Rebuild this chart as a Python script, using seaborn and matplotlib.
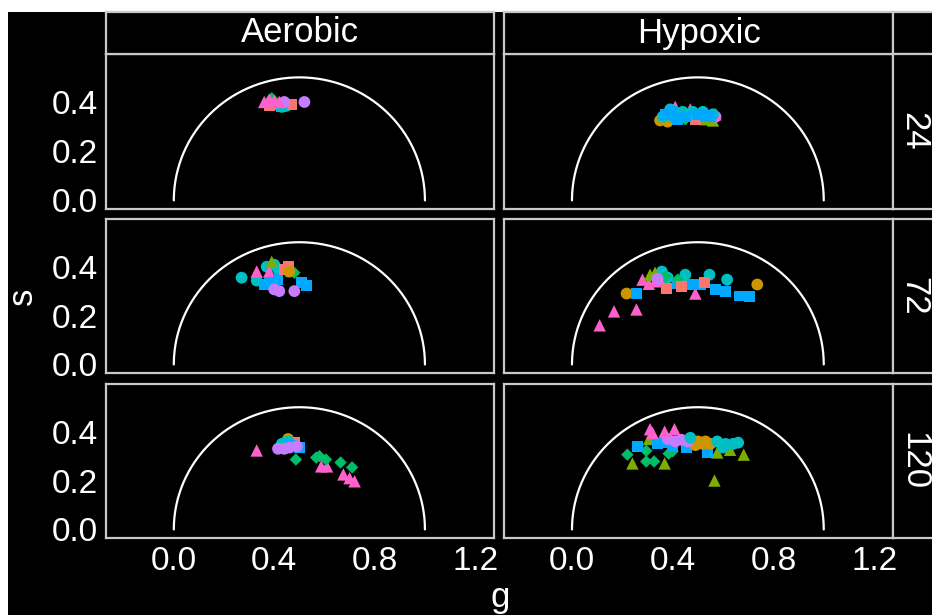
import numpy as np
import pandas as pd
import seaborn as sns
import matplotlib.pyplot as plt
from matplotlib.patches import Rectangle

# phasor values, one set of lists per panel
conditions = ["Aerobic", "Hypoxic"]
times = ["24", "72", "120"]
groups = ["A", "B", "C", "D", "E", "F", "G", "H"]

aer24_g = [0.39, 0.41, 0.43, 0.45, 0.38, 0.47, 0.43, 0.52, 0.44, 0.36, 0.38, 0.40, 0.42]
aer24_s = [0.415, 0.39, 0.38, 0.385, 0.385, 0.39, 0.38, 0.40, 0.40, 0.40, 0.41, 0.405, 0.40]
aer24_grp = ["D", "B", "F", "E", "A", "A", "E", "G", "G", "H", "H", "H", "H"]

hyp24_g = [0.35, 0.38, 0.56, 0.53, 0.49, 0.45, 0.57, 0.41, 0.47, 0.57,
           0.36, 0.39, 0.44, 0.48, 0.52, 0.56, 0.40,
           0.37, 0.40, 0.45, 0.50, 0.53, 0.55, 0.42]
hyp24_s = [0.325, 0.32, 0.325, 0.33, 0.33, 0.33, 0.34, 0.38, 0.37, 0.35,
           0.34, 0.37, 0.36, 0.36, 0.36, 0.35, 0.34,
           0.35, 0.36, 0.34, 0.35, 0.345, 0.34, 0.33]
hyp24_grp = ["B", "B", "C", "C", "A", "D", "G", "H", "H", "H",
             "E", "E", "E", "E", "E", "E", "E",
             "F", "F", "F", "F", "F", "F", "F"]

aer72_g = [0.27, 0.33, 0.40, 0.415, 0.37, 0.33, 0.38, 0.36, 0.415, 0.51, 0.53, 0.38,
           0.40, 0.42, 0.48, 0.48, 0.45, 0.39, 0.455, 0.44, 0.46]
aer72_s = [0.355, 0.343, 0.408, 0.39, 0.40, 0.38, 0.38, 0.327, 0.347, 0.335, 0.323, 0.335,
           0.307, 0.30, 0.30, 0.375, 0.38, 0.42, 0.40, 0.39, 0.38]
aer72_grp = ["E", "E", "E", "E", "E", "H", "H", "F", "F", "F", "F", "F",
             "G", "G", "G", "D", "D", "C", "A", "A", "B"]

hyp72_g = [0.11, 0.167, 0.256, 0.49, 0.28, 0.305, 0.33, 0.36, 0.217, 0.736, 0.44,
           0.256, 0.47, 0.51, 0.57, 0.61, 0.667, 0.705, 0.42, 0.357, 0.45, 0.546, 0.616, 0.38,
           0.31, 0.33, 0.42, 0.37, 0.376, 0.434, 0.527, 0.34]
hyp72_s = [0.16, 0.217, 0.225, 0.29, 0.347, 0.33, 0.34, 0.345, 0.29, 0.327, 0.33,
           0.29, 0.327, 0.327, 0.307, 0.30, 0.28, 0.277, 0.33, 0.38, 0.367, 0.367, 0.347, 0.355,
           0.367, 0.375, 0.347, 0.36, 0.31, 0.318, 0.335, 0.35]
hyp72_grp = ["H", "H", "H", "H", "H", "H", "H", "H", "B", "B", "B",
             "F", "F", "F", "F", "F", "F", "F", "F", "E", "E", "E", "E", "E",
             "C", "C", "D", "D", "A", "A", "A", "G"]

aer120_g = [0.33, 0.587, 0.61, 0.675, 0.70, 0.72, 0.455, 0.44, 0.48, 0.455, 0.43, 0.47, 0.50,
            0.415, 0.44, 0.49, 0.46, 0.486, 0.567, 0.606, 0.664, 0.71, 0.58]
aer120_s = [0.323, 0.258, 0.258, 0.225, 0.21, 0.197, 0.37, 0.365, 0.355, 0.36, 0.35, 0.345, 0.335,
            0.33, 0.33, 0.34, 0.335, 0.286, 0.294, 0.286, 0.274, 0.254, 0.30]
aer120_grp = ["H", "H", "H", "H", "H", "H", "B", "C", "A", "E", "E", "F", "F",
              "G", "G", "G", "G", "D", "D", "D", "D", "D", "D"]

hyp120_g = [0.306, 0.24, 0.368, 0.577, 0.628, 0.682, 0.566,
            0.22, 0.295, 0.295, 0.326, 0.384, 0.40, 0.26, 0.34, 0.453, 0.54, 0.40, 0.37,
            0.50, 0.53, 0.49, 0.55, 0.52, 0.434, 0.41, 0.46, 0.38,
            0.577, 0.61, 0.64, 0.60, 0.47, 0.66, 0.31, 0.368, 0.407, 0.32]
hyp120_s = [0.37, 0.27, 0.27, 0.315, 0.326, 0.306, 0.20,
            0.306, 0.322, 0.278, 0.278, 0.31, 0.32, 0.339, 0.35, 0.335, 0.315, 0.34, 0.355,
            0.36, 0.36, 0.345, 0.35, 0.35, 0.367, 0.36, 0.36, 0.37,
            0.36, 0.35, 0.35, 0.335, 0.375, 0.355, 0.41, 0.40, 0.41, 0.395]
hyp120_grp = ["C", "C", "C", "C", "C", "C", "C",
              "D", "D", "D", "D", "D", "D", "F", "F", "F", "F", "F", "F",
              "B", "B", "B", "B", "B", "G", "G", "G", "G",
              "E", "E", "E", "E", "E", "E", "H", "H", "H", "H"]

panels = {
    ("Aerobic", "24"): (aer24_g, aer24_s, aer24_grp),
    ("Hypoxic", "24"): (hyp24_g, hyp24_s, hyp24_grp),
    ("Aerobic", "72"): (aer72_g, aer72_s, aer72_grp),
    ("Hypoxic", "72"): (hyp72_g, hyp72_s, hyp72_grp),
    ("Aerobic", "120"): (aer120_g, aer120_s, aer120_grp),
    ("Hypoxic", "120"): (hyp120_g, hyp120_s, hyp120_grp),
}

frames = []
for (cond, t), (gv, sv, grp) in panels.items():
    frames.append(pd.DataFrame({"g": gv, "s": sv, "group": grp, "condition": cond, "time": t}))
df = pd.concat(frames, ignore_index=True)

# ggplot-like hue colours and shapes (diamonds drawn a bit smaller)
pal = dict(zip(groups, ["#F8766D", "#CD9600", "#7CAE00", "#00BE67",
                        "#00BFC4", "#00A9FF", "#C77CFF", "#FF61CC"]))
marks = dict(zip(groups, ["s", "o", "^", "D", "o", "s", "o", "^"]))
msize = dict(zip(groups, [62, 72, 80, 40, 72, 62, 72, 80]))

sns.set_theme(style="dark")
plt.rcParams['font.family'] = ['Liberation Sans', 'DejaVu Sans']

fg = sns.FacetGrid(df, row="time", col="condition", row_order=times, col_order=conditions,
                   despine=False, sharex=True, sharey=True)
fg.map_dataframe(sns.scatterplot, x="g", y="s", hue="group", style="group", size="group",
                 hue_order=groups, palette=pal, markers=marks, sizes=msize,
                 edgecolor="none", legend=False)

fig = fg.figure
fig.set_size_inches(9.32, 6.15)
fig.set_facecolor("white")
fig.patches.append(Rectangle((8 / 932, 0), 1, 1 - 12 / 615, transform=fig.transFigure,
                             facecolor="black", edgecolor="none", zorder=-10))

W, H = 932, 615
col_x = [(106, 494), (504, 893)]
row_y = [(54, 209), (219, 373), (384, 538)]
edge = "#C8C8C8"
theta = np.linspace(0, np.pi, 200)

for i in range(3):
    for j in range(2):
        ax = fg.axes[i, j]
        x0, x1 = col_x[j]
        y0, y1 = row_y[i]
        ax.set_position([x0 / W, 1 - y1 / H, (x1 - x0) / W, (y1 - y0) / H])
        ax.set_facecolor("black")
        ax.plot(0.5 + 0.5 * np.cos(theta), 0.5 * np.sin(theta), color="white", lw=1.6, zorder=1)
        ax.set_title("")
        ax.set_xlabel("")
        ax.set_ylabel("")
        ax.grid(False)
        for sp in ax.spines.values():
            sp.set_color(edge)
            sp.set_linewidth(1.6)
        ax.tick_params(colors=edge, labelcolor="white", length=3, width=0.8,
                       labelsize=24, pad=3)
        ax.set_xlim(-0.27, 1.275)
        ax.set_ylim(-0.035, 0.595)
        ax.set_xticks([0.0, 0.4, 0.8, 1.2])
        ax.set_yticks([0.0, 0.2, 0.4])
        ax.xaxis.set_major_formatter(plt.FormatStrFormatter('%.1f'))
        ax.yaxis.set_major_formatter(plt.FormatStrFormatter('%.1f'))


def strip(x0, y0, x1, y1, label, rot=0):
    sa = fig.add_axes([x0 / W, 1 - y1 / H, (x1 - x0) / W, (y1 - y0) / H])
    sa.set_facecolor("black")
    sa.set_xticks([])
    sa.set_yticks([])
    for sp in sa.spines.values():
        sp.set_color(edge)
        sp.set_linewidth(1.6)
    sa.text(0.5, 0.5, label, color="white", fontsize=25, rotation=rot,
            ha="center", va="center", transform=sa.transAxes)


for j, cond in enumerate(conditions):
    strip(col_x[j][0], 12, col_x[j][1], 54, cond)
strip(893, 12, 935, 54, "")
for i, t in enumerate(times):
    strip(893, row_y[i][0], 935, row_y[i][1], t, rot=-90)

fig.text(500 / W, 1 - 598 / H, "g", color="white", fontsize=25, ha="center", va="center")
fig.text(22 / W, 1 - 296 / H, "s", color="white", fontsize=25, ha="center", va="center",
         rotation=90)

fig.savefig("out.png", dpi=100, facecolor=fig.get_facecolor())
